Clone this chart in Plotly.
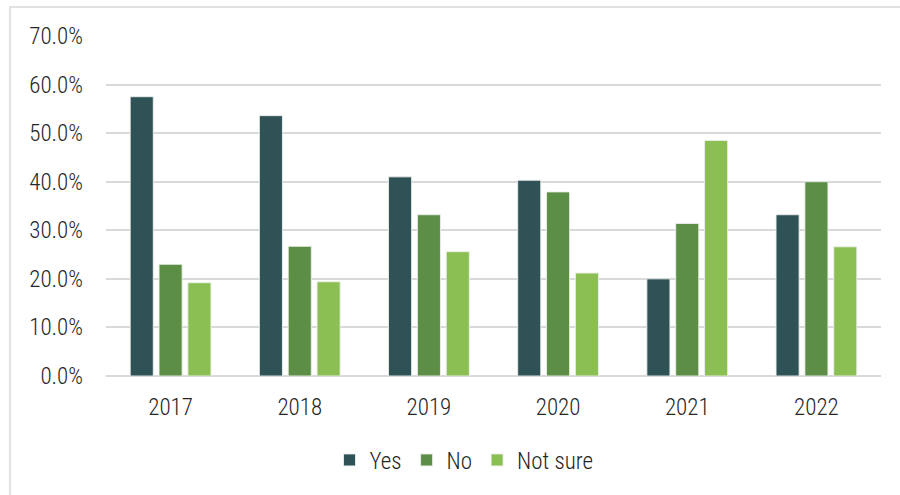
import plotly.graph_objects as go

years = ["2017", "2018", "2019", "2020", "2021", "2022"]
yes_vals = [57.5, 53.6, 41.0, 40.3, 20.0, 33.2]
no_vals = [23.0, 26.7, 33.2, 37.9, 31.4, 40.0]
not_sure_vals = [19.2, 19.4, 25.6, 21.2, 48.5, 26.6]

series = [
    ("Yes", yes_vals, "#2F5257"),
    ("No", no_vals, "#5D8E46"),
    ("Not sure", not_sure_vals, "#8BBF53"),
]

FONT = "Roboto Condensed, Liberation Sans Narrow, DejaVu Sans Condensed, sans-serif"
FS = 23
W, H = 900, 495
ML, MR, MT, MB = 106, 19, 36, 119
PW, PH = W - ML - MR, H - MT - MB

fig = go.Figure()
for name, vals, color in series:
    fig.add_trace(go.Bar(
        x=years, y=vals, name=name,
        marker=dict(color=color, line=dict(color="rgba(235,240,235,0.9)", width=1)),
        hovertemplate="%{x}: %{y:.1f}%<extra>" + name + "</extra>",
    ))

# outer chart frame
fx0 = (10 - ML) / PW
fy1 = 1 + (MT - 7) / PH
fig.add_shape(type="rect", xref="paper", yref="paper",
              x0=fx0, x1=1.2, y0=-1.0, y1=fy1,
              line=dict(color="#d9d9d9", width=1.5), layer="below")

text_font = dict(family=FONT, size=FS, color="#262626", weight=300)

fig.update_layout(
    width=W, height=H,
    margin=dict(l=ML, r=MR, t=MT, b=MB),
    paper_bgcolor="white", plot_bgcolor="white",
    barmode="group", bargap=0.33, bargroupgap=0.2,
    font=text_font,
    showlegend=True,
    legend=dict(orientation="h", x=(464 - ML) / PW, xanchor="center",
                y=(376 - 460) / PH, yanchor="middle",
                font=text_font, itemwidth=30, traceorder="normal"),
    xaxis=dict(showgrid=False, showline=False, ticks="",
               ticklabelstandoff=15, tickfont=text_font),
    yaxis=dict(range=[0, 70], dtick=10, tickformat=".1f", ticksuffix="%",
               showgrid=True, gridcolor="#d9d9d9", gridwidth=1.5,
               zeroline=True, zerolinecolor="#d9d9d9", zerolinewidth=2,
               showline=False, ticks="", ticklabelstandoff=22,
               tickfont=text_font),
)

fig.write_html("out.html")
